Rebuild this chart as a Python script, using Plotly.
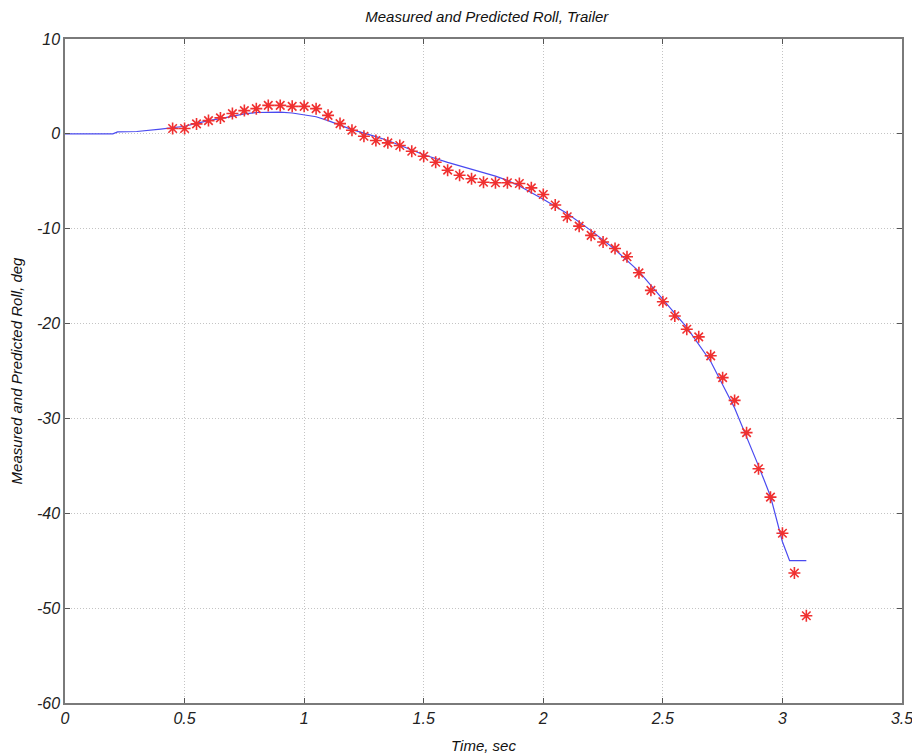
import plotly.graph_objects as go

# Predicted roll (line)
pred_t = [0, 0.2, 0.22, 0.3, 0.4, 0.45, 0.5, 0.55, 0.6, 0.65, 0.7, 0.75, 0.8, 0.85, 0.9,
          0.95, 1.0, 1.05, 1.1, 1.15, 1.2, 1.3, 1.35, 1.4, 1.5, 1.6, 1.7, 1.8, 1.85, 1.9,
          2.0, 2.1, 2.2, 2.3, 2.4, 2.5, 2.6, 2.7, 2.8, 2.9, 2.95, 3.0, 3.03, 3.1]
pred_roll = [0, 0, 0.2, 0.25, 0.5, 0.65, 0.8, 1.1, 1.4, 1.6, 1.85, 2.1, 2.25, 2.3, 2.3,
             2.2, 2.0, 1.8, 1.4, 0.9, 0.45, -0.3, -0.7, -1.2, -2.2, -3.0, -3.7, -4.45, -4.9, -5.5,
             -6.9, -8.4, -10.2, -12.2, -14.5, -17.5, -20.4, -24.0, -28.9, -35.0, -38.2, -43.0, -45.0, -45.0]

# Measured roll (markers)
meas_t = [0.45, 0.5, 0.55, 0.6, 0.65, 0.7, 0.75, 0.8, 0.85, 0.9, 0.95, 1.0, 1.05, 1.1,
          1.15, 1.2, 1.25, 1.3, 1.35, 1.4, 1.45, 1.5, 1.55, 1.6, 1.65, 1.7, 1.75, 1.8,
          1.85, 1.9, 1.95, 2.0, 2.05, 2.1, 2.15, 2.2, 2.25, 2.3, 2.35, 2.4, 2.45, 2.5,
          2.55, 2.6, 2.65, 2.7, 2.75, 2.8, 2.85, 2.9, 2.95, 3.0, 3.05, 3.1]
meas_roll = [0.56, 0.56, 1.05, 1.4, 1.68, 2.14, 2.45, 2.66, 3.0, 3.0, 2.9, 2.9, 2.66, 1.95,
             1.08, 0.38, -0.25, -0.7, -0.95, -1.23, -1.83, -2.36, -2.99, -3.83, -4.36, -4.74, -5.1, -5.15,
             -5.16, -5.23, -5.69, -6.39, -7.5, -8.74, -9.73, -10.7, -11.4, -12.08, -12.95, -14.65, -16.5, -17.7,
             -19.2, -20.6, -21.4, -23.4, -25.7, -28.1, -31.5, -35.3, -38.3, -42.1, -46.3, -50.8]

x_ticks = [0, 0.5, 1, 1.5, 2, 2.5, 3, 3.5]
x_tick_labels = ["0", "0.5", "1", "1.5", "2", "2.5", "3", "3.5"]
y_ticks = [10, 0, -10, -20, -30, -40, -50, -60]
y_tick_labels = ["10", "0", "-10", "-20", "-30", "-40", "-50", "-60"]

font_fam = "Liberation Sans, Arial, sans-serif"

fig = go.Figure()
fig.add_trace(go.Scatter(x=pred_t, y=pred_roll, mode="lines",
                         line=dict(color="#4a4af0", width=1.2), showlegend=False))
fig.add_trace(go.Scatter(x=meas_t, y=meas_roll, mode="markers",
                         marker=dict(symbol="asterisk", size=10, color="#ff2020",
                                     line=dict(color="#f03030", width=1.6)),
                         showlegend=False))

axis_common = dict(showline=True, linecolor="#7a7a7a", linewidth=1.5, mirror="ticks",
                   ticks="inside", ticklen=5, tickcolor="#555555",
                   showgrid=True, gridcolor="#c4c4c4", griddash="1px,2px", gridwidth=1,
                   zeroline=False, automargin=False,
                   tickfont=dict(family=font_fam, size=16, color="#222222"))

fig.update_xaxes(range=[0, 3.5], tickvals=x_ticks,
                 ticktext=["<i>" + t + "</i>" for t in x_tick_labels],
                 title=dict(text="<i>Time, sec</i>", font=dict(family=font_fam, size=15, color="#111111")),
                 **axis_common)
fig.update_yaxes(range=[-60, 10], tickvals=y_ticks,
                 ticktext=["<i>" + t + "</i>" for t in y_tick_labels],
                 title=dict(text="<i>Measured and Predicted Roll, deg</i>",
                            font=dict(family=font_fam, size=15, color="#111111")),
                 **axis_common)

fig.update_layout(
    width=912, height=747,
    margin=dict(l=57, r=18, t=31, b=52),
    paper_bgcolor="white", plot_bgcolor="white",
    title=dict(text="<i>Measured and Predicted Roll, Trailer</i>", x=0.525, xanchor="center",
               y=0.988, yanchor="middle",
               font=dict(family=font_fam, size=15, color="#111111")),
)

fig.write_html("out.html")
